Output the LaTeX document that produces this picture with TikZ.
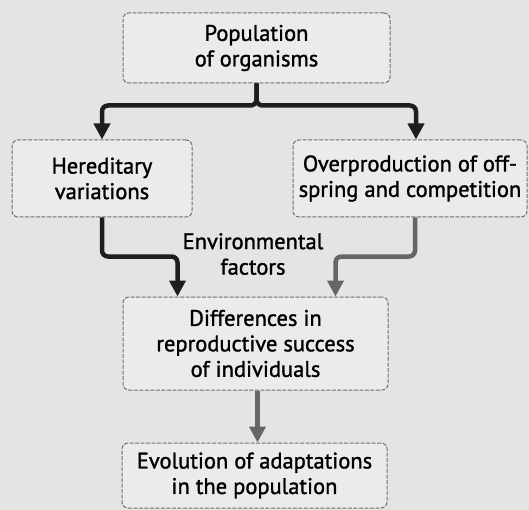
\documentclass[tikz,border=0pt]{standalone}
\usepackage{fontspec}
\setmainfont{PT Sans}
\newfontfamily\boxfont{PT Sans}[FakeBold=1.3]
\usepackage{tikz}
\usetikzlibrary{
    positioning,
    arrows.meta,
    calc,
}
\definecolor{bggray}{HTML}{E4E4E4}
\definecolor{boxgray}{HTML}{EBEBEB}
\definecolor{edgegray}{HTML}{707070}
\definecolor{arrowdark}{HTML}{1E1E1E}
\definecolor{arrowgray}{HTML}{666666}
\tikzset{
    % Box styles
    stage box/.style={rectangle, draw=edgegray, fill=boxgray, line width=1pt,
                      dash pattern=on 4pt off 1.5pt, rounded corners=6pt,
                      align=center, inner sep=0pt,
                      font=\boxfont\fontsize{22.5}{25.5}\selectfont},
    % Arrow styles
    flow/.style={-{Triangle[width=16pt, length=16pt]}, line width=4.5pt,
                 rounded corners=6pt},
    dark flow/.style={flow, arrowdark},
    gray flow/.style={flow, arrowgray},
    % Annotation styles
    annot/.style={align=center, font=\boxfont\fontsize{22.5}{25.5}\selectfont},
}

\begin{document}
\begin{tikzpicture}[x=1pt, y=1pt]
    \fill[bggray] (0,0) rectangle (529,-510);
    \useasboundingbox (0,0) rectangle (529,-510);

    % Boxes
    \node[stage box, minimum width=267pt, minimum height=70pt] (pop) at (256.5,-48)
        {Population\\of organisms};
    \node[stage box, minimum width=180pt, minimum height=77pt] (hered) at (102,-178.5)
        {Hereditary\\variations};
    \node[stage box, minimum width=234pt, minimum height=77pt] (over) at (410,-178.5)
        {Overproduction of off-\\spring and competition};
    \node[stage box, minimum width=265pt, minimum height=93pt] (diff) at (255.5,-343.5)
        {Differences in\\reproductive success\\of individuals};
    \node[stage box, minimum width=265pt, minimum height=65pt] (evol) at (254.5,-475.5)
        {Evolution of adaptations\\in the population};

    \node[annot] (env) at (253,-254) {Environmental\\factors};

    % Arrows
    \draw[dark flow] (pop.south) -- ++(0,-22) -| (hered.north);
    \draw[dark flow] (pop.south) -- ++(0,-22) -| ([xshift=6pt]over.north);
    \draw[dark flow] (hered.south) -- ++(0,-39) -| ([xshift=-78pt]diff.north);
    \draw[gray flow] ([xshift=5pt]over.south) -- ++(0,-39) -| ([xshift=80pt]diff.north);
    \draw[gray flow] ([xshift=2pt]diff.south) -- ([xshift=3pt]evol.north);
\end{tikzpicture}
\end{document}
